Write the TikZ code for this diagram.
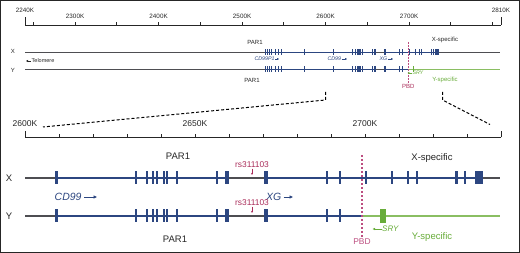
\documentclass[tikz,border=0pt]{standalone}
\usepackage{fontspec}
\setmainfont{Liberation Sans}
\usetikzlibrary{arrows.meta, calc, positioning}

\definecolor{exonblue}{RGB}{44,70,128}
\definecolor{linegray}{RGB}{78,78,82}
\definecolor{pbdred}{RGB}{170,45,90}
\definecolor{pbdpink}{RGB}{188,78,128}
\definecolor{srygreen}{RGB}{104,172,58}
\definecolor{ygreen}{RGB}{138,190,98}

% position on the two scales (px)
\newcommand{\xtop}[1]{(25+(#1-2240)*0.835)}
\newcommand{\xbot}[1]{(25+(#1-2600)*3.4)}

\tikzset{
  axis line/.style={black!85, line width=0.8pt},
  axis small/.style={font=\fontsize{6.3}{7}\selectfont, text=black!85, inner sep=0.5pt},
  axis big/.style={font=\fontsize{8.5}{10}\selectfont, text=black!85, inner sep=0.5pt},
  top label/.style={font=\fontsize{6}{7}\selectfont, text=black!85, inner sep=0.5pt},
  big label/.style={font=\fontsize{9.5}{11}\selectfont, text=black!85, inner sep=0.5pt},
  gene top/.style={font=\fontsize{5.3}{6}\selectfont\itshape, text=exonblue, inner sep=0.3pt},
  gene big/.style={font=\fontsize{10.5}{12}\selectfont\itshape, text=exonblue, inner sep=0.5pt},
  gene arrow top/.style={exonblue, line width=0.5pt, -{Triangle[length=1.8pt,width=1.8pt]}},
  gene arrow big/.style={exonblue, line width=0.9pt, -{Triangle[length=3.5pt,width=3pt]}},
  top gray/.style={linegray, line width=0.9pt},
  top blue/.style={exonblue, line width=0.9pt},
  top green/.style={ygreen, line width=0.9pt},
  big gray/.style={linegray, line width=1.5pt},
  big blue/.style={exonblue, line width=1.5pt},
  big green/.style={ygreen, line width=1.3pt},
  pbd line/.style={pbdpink, line width=1.5pt, dash pattern=on 2.5pt off 1.5pt},
  zoom line/.style={black, line width=1pt, dash pattern=on 3pt off 2pt},
  snp label/.style={font=\fontsize{8.4}{10}\selectfont, text=pbdred, inner sep=0.5pt},
  snp arrow/.style={pbdred, line width=0.6pt, -{Stealth[length=2.2pt,width=2pt]}},
}

\begin{document}
\begin{tikzpicture}[x=1pt, y=-1pt]
    \useasboundingbox (0,0) rectangle (520,253);
    \draw[black!85, line width=1.2pt] (0.6,0.6) rectangle (519.4,252.4);

    % Overview axis
    \coordinate (ta0) at ({\xtop{2240}},25);
    \coordinate (ta1) at ({\xtop{2810}},25);
    \draw[axis line] (ta0) -- (ta1);
    \draw[axis line] (ta0) -- ++(0,-8);
    \draw[axis line] (ta1) -- ++(0,-8);
    \foreach \k in {2250,2300,...,2800} {
        \draw[axis line] ({\xtop{\k}},25) -- ++(0,-3);
    }
    \foreach \k in {2300,2400,...,2700} {
        \node[axis small] (tl\k) at ({\xtop{\k}},16) {\k K};
    }
    \node[axis small] (tl2240) at ({\xtop{2240}},10) {2240K};
    \node[axis small] (tl2810) at ({\xtop{2810}},10) {2810K};

    % Overview chromosomes
    \node[top label] (tx) at (13,51.5) {X};
    \node[top label] (ty) at (13,70) {Y};
    \draw[top gray] (25,52) -- (500,52);
    \draw[top blue] ({\xtop{2528.6}},52) -- ({\xtop{2659.4}},52);
    \draw[top blue] ({\xtop{2670.9}},52) -- ({\xtop{2733.5}},52);
    \draw[top gray] (25,69) -- ({\xtop{2699.1}},69);
    \draw[top blue] ({\xtop{2528.6}},69) -- ({\xtop{2659.4}},69);
    \draw[top blue] ({\xtop{2670.9}},69) -- ({\xtop{2699.1}},69);
    \draw[top green] ({\xtop{2699.1}},69) -- (500,69);

    % Overview exons
    \foreach \k in {2528.6,2531,2533.4,2535.8,2539.4,2543,2546.6,2575.3} {
        \fill[exonblue] ({\xtop{\k}-0.5},49) rectangle ({\xtop{\k}+0.5},55);
        \fill[exonblue] ({\xtop{\k}-0.5},66) rectangle ({\xtop{\k}+0.5},72);
    }
    \foreach \k/\w in {2609.4/3,2632.6/2,2635.9/2,2637.6/2,2638.8/2,2640.9/2,2641.8/2,2644.7/2,2656.5/2,2659.4/4.5,2670.9/4,2688.8/2,2692.6/2} {
        \pgfmathsetmacro{\wt}{0.25*\w+0.5}
        \fill[exonblue] ({\xtop{\k}-\wt/2},49) rectangle ({\xtop{\k}+\wt/2},55);
        \fill[exonblue] ({\xtop{\k}-\wt/2},66) rectangle ({\xtop{\k}+\wt/2},72);
    }
    \foreach \k/\w in {2700.3/2,2707.9/2,2712.6/2,2715.3/2,2726.8/3,2729.4/2,2733.5/8} {
        \pgfmathsetmacro{\wt}{0.4*\w+0.3}
        \fill[exonblue] ({\xtop{\k}-\wt/2},49) rectangle ({\xtop{\k}+\wt/2},55);
    }
    \fill[srygreen] ({\xtop{2705.3}-0.7},66) rectangle ({\xtop{2705.3}+0.7},72);

    % Overview labels
    \node[top label] (tpar1x) at (255,42) {PAR1};
    \node[top label] (tpar1y) at (252,80) {PAR1};
    \node[top label] (txspec) at (445,40) {X-specific};
    \node[top label, text=srygreen] (tyspec) at (445,80) {Y-specific};
    \node[top label, text=pbdred] (tpbd) at ({\xtop{2699.1}},86) {PBD};
    \coordinate (tpbdtop) at ({\xtop{2699.1}},42);
    \draw[pbd line, line width=0.8pt, dash pattern=on 2pt off 1pt] (tpbdtop) -- (tpbd.north);

    \node[top label, font=\fontsize{5.5}{6}\selectfont, anchor=west] (telo) at (31,61) {Telomere};
    \coordinate (telotip) at (26,61);
    \draw[black!85, line width=0.5pt, -{Triangle[length=2pt,width=2pt]}] (telo.west) -- (telotip);

    \node[gene top, anchor=west] (tcd99p1) at (254,59) {CD99P1};
    \coordinate (tcd99p1tip) at (279,59);
    \draw[gene arrow top] (tcd99p1.east) -- (tcd99p1tip);
    \node[gene top, anchor=west] (tcd99) at (327,59) {CD99};
    \coordinate (tcd99tip) at (347,59);
    \draw[gene arrow top] (tcd99.east) -- (tcd99tip);
    \node[gene top, anchor=west] (txg) at (379,59) {XG};
    \coordinate (txgtip) at (393,59);
    \draw[gene arrow top] (txg.east) -- (txgtip);
    \node[gene top, text=srygreen, anchor=west] (tsry) at (412,73) {SRY};
    \coordinate (tsrytip) at (407.5,73);
    \draw[srygreen, line width=0.5pt, -{Triangle[length=1.8pt,width=1.8pt]}] (tsry.west) -- (tsrytip);

    % Zoom guides
    \coordinate (zl0) at ({\xtop{2600}},92);
    \coordinate (zl1) at ({\xtop{2600}},100);
    \coordinate (zl2) at (43,127);
    \coordinate (zr0) at ({\xtop{2740}},92);
    \coordinate (zr1) at ({\xtop{2740}},100);
    \coordinate (zr2) at (490,124.5);
    \draw[zoom line] (zl0) -- (zl1) -- (zl2);
    \draw[zoom line] (zr0) -- (zr1) -- (zr2);

    % Detail axis
    \coordinate (ba0) at ({\xbot{2600}},137.5);
    \coordinate (ba1) at ({\xbot{2740}},137.5);
    \draw[axis line] (ba0) -- (ba1);
    \draw[axis line] (ba0) -- ++(0,-6);
    \draw[axis line] (ba1) -- ++(0,-6);
    \foreach \k in {2610,2620,...,2730} {
        \draw[axis line] ({\xbot{\k}},137.5) -- ++(0,-3);
    }
    \foreach \k in {2600,2650,2700} {
        \node[axis big] (bl\k) at ({\xbot{\k}},124) {\k K};
    }

    % Detail chromosomes
    \node[big label] (bx) at (9,178) {X};
    \node[big label] (by) at (9,216.5) {Y};
    \draw[big gray] (25,178) -- (500,178);
    \draw[big blue] ({\xbot{2609.4}},178) -- ({\xbot{2659.4}},178);
    \draw[big blue] ({\xbot{2670.9}},178) -- ({\xbot{2733.5}},178);
    \draw[big gray] (25,216) -- ({\xbot{2699.1}},216);
    \draw[big blue] ({\xbot{2609.4}},216) -- ({\xbot{2659.4}},216);
    \draw[big blue] ({\xbot{2670.9}},216) -- ({\xbot{2699.1}},216);
    \draw[big green] ({\xbot{2699.1}},216) -- (500,216);

    % Detail exons
    \foreach \k/\w in {2609.4/3,2632.6/2,2635.9/2,2637.6/2,2638.8/2,2640.9/2,2641.8/2,2644.7/2,2656.5/2,2659.4/4.5,2670.9/4,2688.8/2,2692.6/2} {
        \fill[exonblue] ({\xbot{\k}-\w/2},171.5) rectangle ({\xbot{\k}+\w/2},184.5);
        \fill[exonblue] ({\xbot{\k}-\w/2},209.5) rectangle ({\xbot{\k}+\w/2},222.5);
    }
    \foreach \k/\w in {2700.3/2,2707.9/2,2712.6/2,2715.3/2,2726.8/3,2729.4/2,2733.5/8} {
        \fill[exonblue] ({\xbot{\k}-\w/2},171.5) rectangle ({\xbot{\k}+\w/2},184.5);
    }
    \fill[srygreen] ({\xbot{2705.3}-2.6},209) rectangle ({\xbot{2705.3}+2.6},223);

    % Detail labels
    \node[big label] (bpar1x) at (178,156) {PAR1};
    \node[big label] (bpar1y) at (175,239) {PAR1};
    \node[big label] (bxspec) at (432,158) {X-specific};
    \node[big label, text=srygreen] (byspec) at (432,237) {Y-specific};
    \node[snp label, text=pbdpink] (bpbd) at ({\xbot{2699.1}},242) {PBD};
    \coordinate (bpbdtop) at ({\xbot{2699.1}},155);
    \draw[pbd line] (bpbdtop) -- (bpbd.north);

    \node[gene big, anchor=west] (bcd99) at (54,197) {CD99};
    \coordinate (bcd99tip) at (97,197);
    \draw[gene arrow big] ($(bcd99.east)+(2,0)$) -- (bcd99tip);
    \node[gene big, anchor=west] (bxg) at (265.5,197) {XG};
    \coordinate (bxgtip) at (293,197);
    \draw[gene arrow big] ($(bxg.east)+(1.5,0)$) -- (bxgtip);
    \node[gene big, font=\fontsize{8}{9}\selectfont\itshape, text=srygreen, anchor=west] (bsry) at (381.5,229) {SRY};
    \coordinate (bsrytip) at (372.5,229);
    \draw[srygreen, line width=0.7pt, -{Triangle[length=2.5pt,width=2.2pt]}] (bsry.west) -- (bsrytip);

    \node[snp label] (snpx) at (252,165) {rs311103};
    \coordinate (snpxtip) at (252,175);
    \draw[snp arrow] (snpx.south) -- (snpxtip);
    \node[snp label] (snpy) at (252,203) {rs311103};
    \coordinate (snpytip) at (252,213);
    \draw[snp arrow] (snpy.south) -- (snpytip);
\end{tikzpicture}
\end{document}
